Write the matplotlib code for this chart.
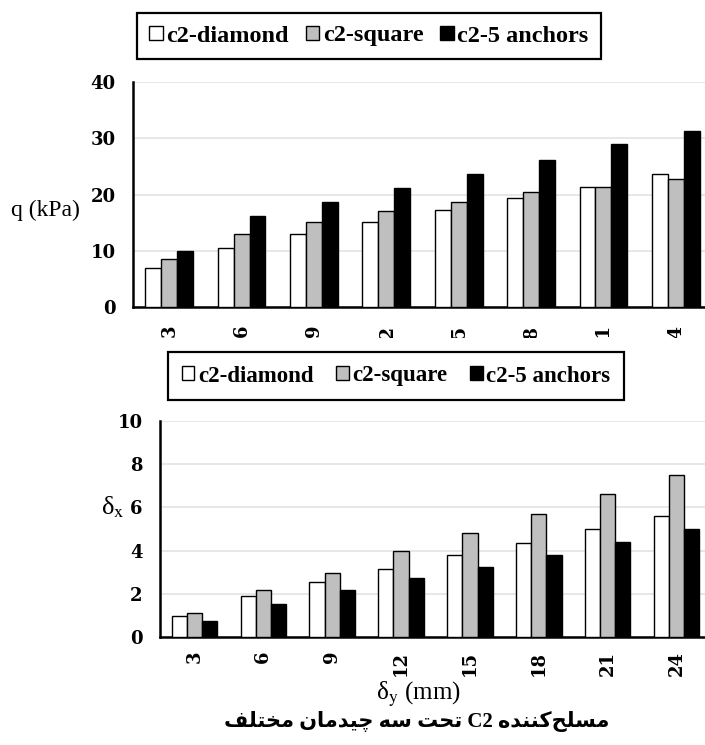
import numpy as np
import matplotlib
matplotlib.use('Agg')
import matplotlib.pyplot as plt
from matplotlib.transforms import Bbox, TransformedBbox

## data
dy = [3, 6, 9, 12, 15, 18, 21, 24]
series = ['c2-diamond', 'c2-square', 'c2-5 anchors']
q_diamond = [6.9, 10.5, 12.9, 15.1, 17.3, 19.4, 21.3, 23.6]
q_square = [8.6, 12.9, 15.1, 17.0, 18.7, 20.4, 21.3, 22.8]
q_anchors = [10.0, 16.1, 18.7, 21.2, 23.6, 26.2, 28.9, 31.3]
dx_diamond = [0.98, 1.88, 2.54, 3.15, 3.80, 4.34, 4.99, 5.60]
dx_square = [1.09, 2.19, 2.95, 3.97, 4.81, 5.71, 6.60, 7.49]
dx_anchors = [0.74, 1.52, 2.17, 2.74, 3.26, 3.80, 4.40, 4.99]
title_fa = 'مسلح\u200cکننده C2 تحت سه چیدمان مختلف'

colors = ['white', '#bfbfbf', 'black']

plt.rcParams['font.family'] = 'Liberation Serif'
plt.rcParams['mathtext.fontset'] = 'stix'

## simple persian shaping (matplotlib has no bidi / joining)
FORMS = {
    'م': '\uFEE1\uFEE2\uFEE3\uFEE4', 'س': '\uFEB1\uFEB2\uFEB3\uFEB4',
    'ل': '\uFEDD\uFEDE\uFEDF\uFEE0', 'ح': '\uFEA1\uFEA2\uFEA3\uFEA4',
    'ک': '\uFB8E\uFB8F\uFB90\uFB91', 'ن': '\uFEE5\uFEE6\uFEE7\uFEE8',
    'د': '\uFEA9\uFEAA', 'ه': '\uFEE9\uFEEA\uFEEB\uFEEC',
    'ت': '\uFE95\uFE96\uFE97\uFE98', 'چ': '\uFB7A\uFB7B\uFB7C\uFB7D',
    'ی': '\uFBFC\uFBFD\uFBFE\uFBFF', 'ا': '\uFE8D\uFE8E',
    'خ': '\uFEA5\uFEA6\uFEA7\uFEA8', 'ف': '\uFED1\uFED2\uFED3\uFED4',
}

def shape(word):
    out = []
    for i, ch in enumerate(word):
        if ch not in FORMS:
            continue
        prev = word[i-1] if i > 0 else ''
        nxt = word[i+1] if i + 1 < len(word) else ''
        jp = prev in FORMS and len(FORMS[prev]) == 4
        jn = len(FORMS[ch]) == 4 and nxt in FORMS
        k = 3 if (jp and jn) else 1 if jp else 2 if jn else 0
        out.append(FORMS[ch][k])
    return ''.join(out)[::-1]

def rtl(text):
    words = text.split(' ')
    return ' '.join(w if w.isascii() else shape(w) for w in words[::-1])


fig = plt.figure(figsize=(7.05, 7.45), dpi=100)

def draw_bars(ax, vals, ymax, step):
    x = np.arange(len(dy))
    w = 0.22
    for i, v in enumerate(vals):
        ax.bar(x + (i-1)*w, v, w, color=colors[i], edgecolor='black',
               linewidth=1.0, label=series[i], zorder=3)
    ax.set_xlim(-0.5, len(dy)-0.5)
    ax.set_ylim(0, ymax)
    ax.set_yticks(np.arange(0, ymax+0.1, step))
    ax.set_xticks(x)
    ax.set_xticklabels([str(d) for d in dy], rotation=90)
    ax.grid(axis='y', color='#e3e3e3', linewidth=1.2, zorder=0)
    for s in ['top', 'right']:
        ax.spines[s].set_visible(False)
    ax.spines['left'].set_linewidth(1.8)
    ax.spines['bottom'].set_linewidth(1.8)
    ax.tick_params(length=0, pad=12.5, labelsize=13)
    for lab in ax.get_xticklabels() + ax.get_yticklabels():
        lab.set_fontweight('bold')
        lab.set_fontfamily('DejaVu Serif')

## top chart (q)
ax1 = fig.add_axes([133/705, 1-307/745, 579/705, 225/745])
draw_bars(ax1, [q_diamond, q_square, q_anchors], 40, 10)
leg1 = fig.legend(*ax1.get_legend_handles_labels(), loc='center',
                  bbox_to_anchor=(369/705, 1-36/745), ncol=3, fancybox=False,
                  edgecolor='black', framealpha=1, prop={'weight': 'bold', 'size': 17.5},
                  handlelength=0.55, handleheight=0.55, handletextpad=0.15,
                  columnspacing=0.7, borderpad=0.5)
leg1.get_frame().set_linewidth(1.6)
fig.text(45/705, 1-210/745, 'q (kPa)', ha='center', va='center', fontsize=17)

## the top picture is cut just under its tick labels
clip = TransformedBbox(Bbox([[0, 1-338/745], [1, 1]]), fig.transFigure)
for lab in ax1.get_xticklabels():
    lab.set_clip_box(clip)
    lab.set_clip_on(True)

## bottom chart (delta x)
ax2 = fig.add_axes([160/705, 1-637/745, 551/705, 216/745])
draw_bars(ax2, [dx_diamond, dx_square, dx_anchors], 10, 2)
ax2.tick_params(axis='x', pad=10)
leg2 = fig.legend(*ax2.get_legend_handles_labels(), loc='center',
                  bbox_to_anchor=(396/705, 1-376/745), ncol=3, fancybox=False,
                  edgecolor='black', framealpha=1, prop={'weight': 'bold', 'size': 16.5},
                  handlelength=0.55, handleheight=0.55, handletextpad=0.15,
                  columnspacing=1.0, borderpad=0.6)
leg2.get_frame().set_linewidth(1.6)
fig.text(113/705, 1-507/745, r'δ$_{\rm x}$', ha='center', va='center', fontsize=19)
fig.text(418/705, 1-694/745, r'δ$_{\rm y}$ (mm)', ha='center', va='center', fontsize=18)
fig.text(417/705, 1-722/745, rtl(title_fa), ha='center', va='center', fontsize=15,
         fontweight='bold', family=['Liberation Serif', 'DejaVu Sans'])

fig.savefig('out.png', dpi=100)
